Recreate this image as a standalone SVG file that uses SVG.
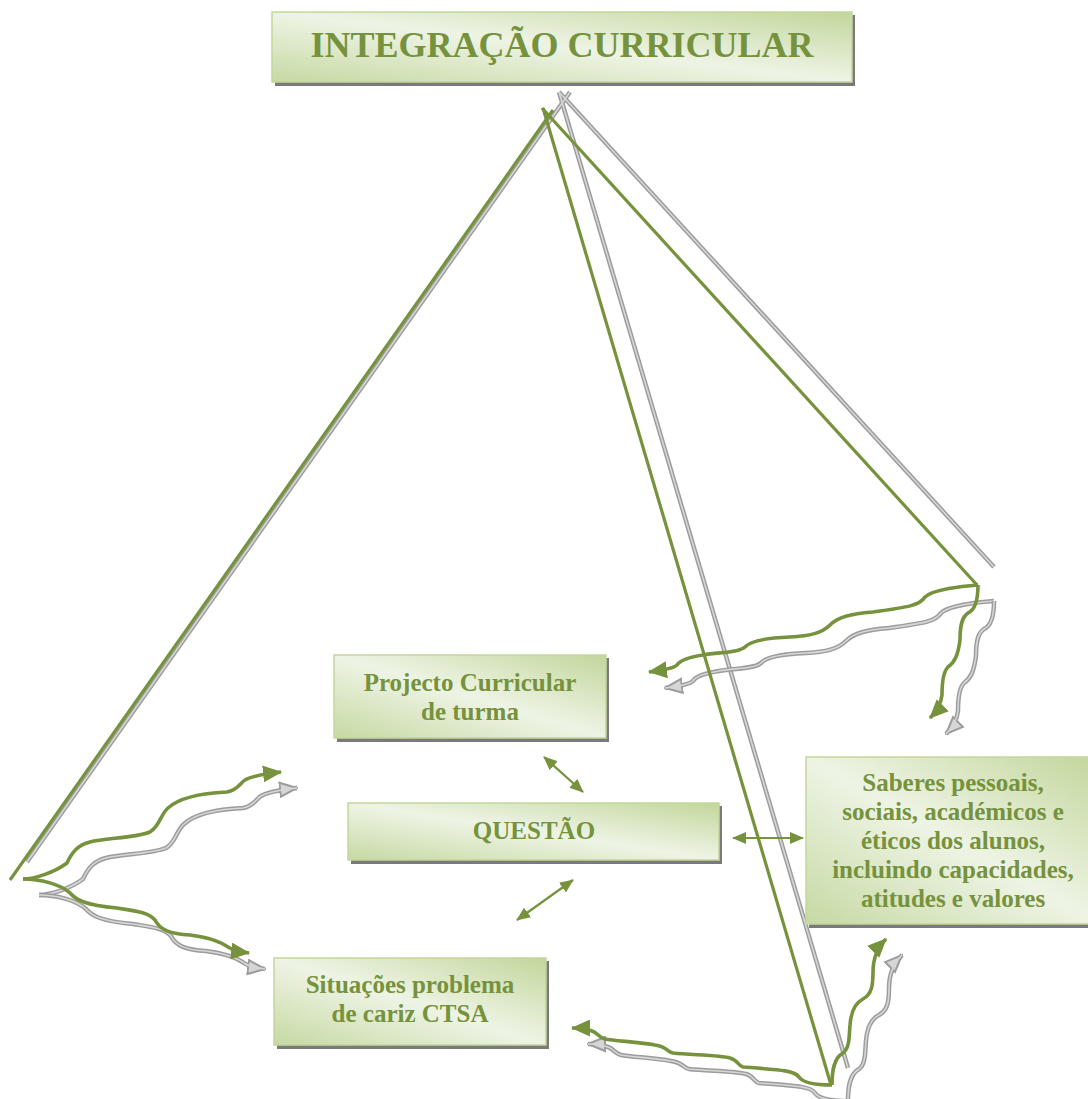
<svg xmlns="http://www.w3.org/2000/svg" xmlns:xlink="http://www.w3.org/1999/xlink" width="1088" height="1099" viewBox="0 0 1088 1099">
<style>
.box{stroke:#c3d69b;stroke-width:1.5;fill:url(#bg)}
.shadow{fill:#7a7a7a}
.t{font-family:"Liberation Serif","Times New Roman",serif;font-weight:bold;fill:#76923C;text-anchor:middle}
.gs{fill:none;stroke:#9c9c9c;stroke-width:4.5;marker-end:url(#agr)}
.gsi{fill:none;stroke:#d6d6d6;stroke-width:1.6}
.gl{fill:none;stroke:#76923C;stroke-width:3.6;marker-end:url(#ag)}
.pl{stroke:#76923C;stroke-width:3.2;fill:none}
.pg{stroke:#9c9c9c;stroke-width:4.5;fill:none}
.pgi{stroke:#d6d6d6;stroke-width:1.6;fill:none}
.dbl{stroke:#76923C;stroke-width:2.2;fill:none;marker-start:url(#ad);marker-end:url(#ad)}
</style>
<defs>
<linearGradient id="bg" x1="0" y1="1" x2="1" y2="0">
<stop offset="0" stop-color="#c6d9a3"/>
<stop offset="0.5" stop-color="#eef4e5"/>
<stop offset="1" stop-color="#c2d69b"/>
</linearGradient>
<marker id="ag" markerWidth="19" markerHeight="17" refX="18" refY="8.5" orient="auto" markerUnits="userSpaceOnUse"><path d="M0,0 L19,8.5 L0,17 z" fill="#76923C"/></marker>
<marker id="agr" markerWidth="19" markerHeight="17" refX="18" refY="8.5" orient="auto" markerUnits="userSpaceOnUse"><path d="M1,1.5 L18,8.5 L1,15.5 z" fill="#d6d6d6" stroke="#9c9c9c" stroke-width="2"/></marker>
<marker id="ad" markerWidth="14" markerHeight="12" refX="13" refY="6" orient="auto-start-reverse" markerUnits="userSpaceOnUse"><path d="M0,0 L14,6 L0,12 z" fill="#76923C"/></marker>
<path id="p1" d="M23,879 C35,879 55,872 67,863 C72,852 78,845 90,842 C105,838 135,838 150,832 C160,826 160,815 168,808 C180,797 205,793 227,792 C238,790 240,783 245,780 C252,776 262,774 281,772"/>
<path id="p2" d="M23,879 C40,879 60,884 70,893 C76,900 85,905 117,908 C135,911 148,912 155,920 C160,930 170,934 190,935 C205,937 218,940 228,947 C234,951 240,952 249,953"/>
<path id="p3" d="M978,585 C960,586 932,590 925,597 C920,605 910,607 873,612 C850,614 838,617 830,625 C822,633 810,636 790,637 C765,638 750,641 745,647 C738,653 720,652 703,655 C690,657 680,660 677,665 C674,668 665,670 649,672"/>
<path id="p4" d="M978,585 C978,600 975,610 968,613 C962,617 960,625 960,640 C958,655 955,662 948,667 C943,672 942,685 942,695 C941,703 938,710 930,718"/>
<path id="p5" d="M832,1085 C815,1085 803,1083 799,1077 C795,1071 785,1070 743,1067 C738,1066 738,1060 730,1058 C720,1055 690,1055 673,1053 C667,1052 668,1047 655,1045 C640,1042 615,1041 605,1039 C598,1037 598,1033 592,1031 C586,1029 580,1028 572,1028"/>
<path id="p6" d="M832,1085 C832,1070 834,1058 843,1053 C850,1048 849,1035 850,1025 C851,1012 855,1003 863,999 C872,994 873,985 873,972 C873,962 875,950 886,939"/>
</defs>
<rect width="1088" height="1099" fill="#ffffff"/>
<g id="connectors">
<g id="pyramid-shadow">
<line class="pg" x1="570" y1="92" x2="27" y2="862"/>
<line class="pg" x1="559" y1="92" x2="994" y2="567"/>
<line class="pg" x1="559" y1="92" x2="848" y2="1068"/>
<line class="pgi" x1="570" y1="92" x2="27" y2="862"/>
<line class="pgi" x1="559" y1="92" x2="994" y2="567"/>
<line class="pgi" x1="559" y1="92" x2="848" y2="1068"/>
</g>
<g id="wave-shadow" transform="translate(16,16)">
<use xlink:href="#p1" class="gs"/><use xlink:href="#p1" class="gsi"/>
<use xlink:href="#p2" class="gs"/><use xlink:href="#p2" class="gsi"/>
<use xlink:href="#p3" class="gs"/><use xlink:href="#p3" class="gsi"/>
<use xlink:href="#p4" class="gs"/><use xlink:href="#p4" class="gsi"/>
<use xlink:href="#p5" class="gs"/><use xlink:href="#p5" class="gsi"/>
<use xlink:href="#p6" class="gs"/><use xlink:href="#p6" class="gsi"/>
</g>
<g id="pyramid">
<line class="pl" x1="553" y1="110" x2="10" y2="880"/>
<line class="pl" x1="542" y1="108" x2="977" y2="585"/>
<line class="pl" x1="543" y1="108" x2="831" y2="1085"/>
</g>
<g id="waves">
<use xlink:href="#p1" class="gl"/>
<use xlink:href="#p2" class="gl"/>
<use xlink:href="#p3" class="gl"/>
<use xlink:href="#p4" class="gl"/>
<use xlink:href="#p5" class="gl"/>
<use xlink:href="#p6" class="gl"/>
</g>
<g id="double-arrows">
<line class="dbl" x1="544" y1="757" x2="583" y2="792"/>
<line class="dbl" x1="733" y1="838" x2="803" y2="838"/>
<line class="dbl" x1="517" y1="920" x2="573" y2="880"/>
</g>
</g>
<g id="title">
<rect class="shadow" x="275" y="15" width="580" height="71"/>
<rect class="box" x="272" y="12" width="580" height="70"/>
<text class="t" x="562" y="57" font-size="36">INTEGRAÇÃO CURRICULAR</text>
</g>
<g id="projecto">
<rect class="shadow" x="337" y="658" width="272" height="84"/>
<rect class="box" x="334" y="655" width="272" height="83"/>
<text class="t" x="470" y="691" font-size="25">Projecto Curricular</text>
<text class="t" x="470" y="720" font-size="25">de turma</text>
</g>
<g id="questao">
<rect class="shadow" x="351" y="806" width="371" height="58"/>
<rect class="box" x="348" y="803" width="371" height="57"/>
<text class="t" x="534" y="839" font-size="25">QUESTÃO</text>
</g>
<g id="saberes">
<rect class="shadow" x="809" y="760" width="294" height="168"/>
<rect class="box" x="806" y="757" width="294" height="167"/>
<text class="t" x="953" y="791" font-size="25">Saberes pessoais,</text>
<text class="t" x="953" y="820" font-size="25">sociais, académicos e</text>
<text class="t" x="953" y="849" font-size="25">éticos dos alunos,</text>
<text class="t" x="953" y="878" font-size="25">incluindo capacidades,</text>
<text class="t" x="953" y="907" font-size="25">atitudes e valores</text>
</g>
<g id="situacoes">
<rect class="shadow" x="277" y="961" width="272" height="88"/>
<rect class="box" x="274" y="958" width="272" height="87"/>
<text class="t" x="410" y="993" font-size="25">Situações problema</text>
<text class="t" x="410" y="1022" font-size="25">de cariz CTSA</text>
</g>
</svg>
